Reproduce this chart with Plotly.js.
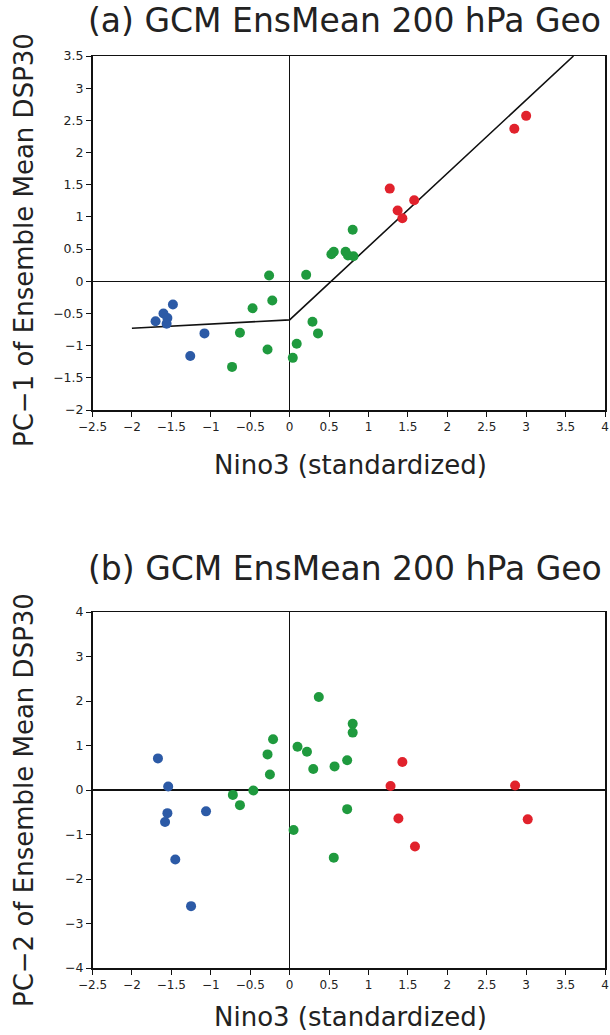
<!DOCTYPE html>
<html>
<head>
<meta charset="utf-8">
<script src="https://cdn.plot.ly/plotly-3.0.1.min.js"></script>
<style>
html,body{margin:0;padding:0;background:#fff;}
#chart{width:610px;height:1035px;}
</style>
</head>
<body>
<div id="chart"></div>
<script>
// ---- Panel (a): PC-1 vs Nino3 ----
const blueX_a  = [-1.48, -1.60, -1.55, -1.70, -1.56, -1.08, -1.26];
const blueY_a  = [-0.36, -0.50, -0.57, -0.62, -0.66, -0.81, -1.16];
const greenX_a = [-0.26, 0.21, -0.22, -0.47, -0.63, -0.28, -0.73, 0.29, 0.36, 0.09, 0.04, 0.80, 0.53, 0.56, 0.71, 0.74, 0.81];
const greenY_a = [0.09, 0.10, -0.30, -0.42, -0.80, -1.06, -1.33, -0.63, -0.81, -0.97, -1.19, 0.80, 0.42, 0.46, 0.46, 0.40, 0.39];
const redX_a   = [1.27, 1.58, 1.37, 1.43, 2.85, 3.00];
const redY_a   = [1.44, 1.26, 1.10, 0.98, 2.37, 2.57];
const fitX     = [-2.0, 0.0, 3.6];
const fitY     = [-0.73, -0.60, 3.5];

// ---- Panel (b): PC-2 vs Nino3 ----
const blueX_b  = [-1.67, -1.54, -1.55, -1.58, -1.45, -1.06, -1.25];
const blueY_b  = [0.71, 0.08, -0.52, -0.72, -1.56, -0.48, -2.61];
const greenX_b = [-0.72, -0.63, -0.46, -0.25, -0.28, -0.21, 0.10, 0.22, 0.30, 0.57, 0.37, 0.05, 0.56, 0.73, 0.73, 0.80, 0.80];
const greenY_b = [-0.11, -0.34, -0.01, 0.35, 0.80, 1.14, 0.97, 0.86, 0.47, 0.53, 2.09, -0.90, -1.52, 0.67, -0.43, 1.49, 1.29];
const redX_b   = [1.43, 1.28, 1.38, 1.59, 2.86, 3.02];
const redY_b   = [0.63, 0.09, -0.64, -1.27, 0.10, -0.66];

// ---- Text (titles as visible in the reference) ----
const titleA = "(a) GCM EnsMean 200 hPa Geo";
const titleB = "(b) GCM EnsMean 200 hPa Geo";
const yTitleA = "PC\u22121 of Ensemble Mean DSP30";
const yTitleB = "PC\u22122 of Ensemble Mean DSP30";
const xTitle = "Nino3 (standardized)";

const BLUE = "#2c5aa6", GREEN = "#1f9a3e", RED = "#e1222c";
const FONT = "DejaVu Sans, Noto Sans, sans-serif";

function pts(x, y, c, xa, ya) {
  return {x: x, y: y, type: "scatter", mode: "markers", xaxis: xa, yaxis: ya,
    marker: {color: c, size: 10, line: {width: 0}}, showlegend: false, hoverinfo: "skip"};
}

const data = [
  {x: fitX, y: fitY, type: "scatter", mode: "lines", xaxis: "x", yaxis: "y",
   line: {color: "#111", width: 1.6}, showlegend: false, hoverinfo: "skip"},
  pts(blueX_a, blueY_a, BLUE, "x", "y"),
  pts(greenX_a, greenY_a, GREEN, "x", "y"),
  pts(redX_a, redY_a, RED, "x", "y"),
  pts(blueX_b, blueY_b, BLUE, "x2", "y2"),
  pts(greenX_b, greenY_b, GREEN, "x2", "y2"),
  pts(redX_b, redY_b, RED, "x2", "y2")
];

const W = 610, H = 1035;
const px = v => v / W;
const py = v => 1 - v / H;

function xax(anchor) {
  return {domain: [px(92.5), px(605)], range: [-2.5, 4], dtick: 0.5, tick0: -2.5,
    anchor: anchor, showgrid: false, zeroline: true, zerolinecolor: "#111", zerolinewidth: 1.2,
    showline: true, linecolor: "#111", linewidth: 1.5, mirror: true,
    ticks: "outside", ticklen: 5, tickwidth: 1, tickcolor: "#111",
    tickfont: {family: FONT, size: 12, color: "#222"}, fixedrange: true};
}
function yax(anchor, dom, rng, dt) {
  return {domain: dom, range: rng, dtick: dt, tick0: 0, anchor: anchor,
    showgrid: false, zeroline: true, zerolinecolor: "#111", zerolinewidth: 1.2,
    showline: true, linecolor: "#111", linewidth: 1.5, mirror: true,
    ticks: "outside", ticklen: 5, tickwidth: 1, tickcolor: "#111",
    tickfont: {family: FONT, size: 12.5, color: "#222"}, fixedrange: true};
}

function ann(text, x, y, size, opts) {
  return Object.assign({text: text, x: x, y: y, xref: "paper", yref: "paper",
    showarrow: false, font: {family: FONT, size: size, color: "#222"}}, opts || {});
}

const layout = {
  width: W, height: H,
  margin: {l: 0, r: 0, t: 0, b: 0},
  paper_bgcolor: "#fff", plot_bgcolor: "#fff",
  xaxis: xax("y"),
  yaxis: yax("x", [py(410), py(56)], [-2, 3.5], 0.5),
  xaxis2: xax("y2"),
  yaxis2: yax("x2", [py(968), py(612)], [-4, 4], 1),
  annotations: [
    ann(titleA, px(86), py(21), 33, {xanchor: "left", yanchor: "middle"}),
    ann(titleB, px(86), py(568), 33, {xanchor: "left", yanchor: "middle"}),
    ann(yTitleA, px(24), py(240), 26, {textangle: -90, xanchor: "center", yanchor: "middle"}),
    ann(yTitleB, px(24), py(800), 26, {textangle: -90, xanchor: "center", yanchor: "middle"}),
    ann(xTitle, px(350), py(465), 26, {xanchor: "center", yanchor: "middle"}),
    ann(xTitle, px(350), py(1017), 26, {xanchor: "center", yanchor: "middle"})
  ]
};

Plotly.newPlot("chart", data, layout, {displayModeBar: false, staticPlot: true});
</script>
</body>
</html>
